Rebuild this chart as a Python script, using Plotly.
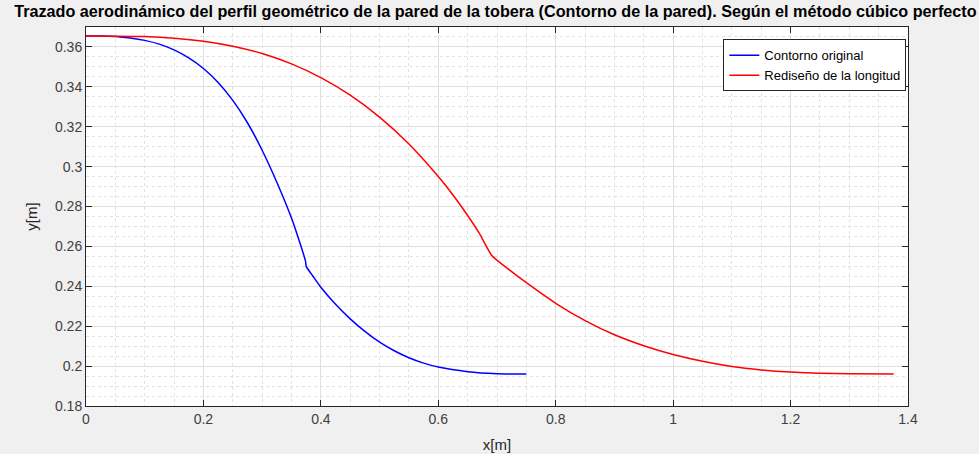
import plotly.graph_objects as go

# Original contour (blue)
x_original = [0.0, 0.025, 0.05, 0.075, 0.10, 0.125, 0.15, 0.175, 0.20, 0.225, 0.25, 0.275,
              0.30, 0.325, 0.35, 0.362, 0.374, 0.375, 0.386, 0.40, 0.425, 0.45, 0.475,
              0.50, 0.525, 0.55, 0.575, 0.60, 0.65, 0.70, 0.75]
y_original = [0.3655, 0.3655, 0.3652, 0.3645, 0.3633, 0.3614, 0.3585, 0.3545, 0.3492,
              0.3422, 0.3332, 0.3220, 0.3082, 0.2922, 0.2742, 0.2638, 0.2525, 0.2500,
              0.2453, 0.2395, 0.2310, 0.2237, 0.2174, 0.2120, 0.2077, 0.2042, 0.2015,
              0.1995, 0.1972, 0.1962, 0.1960]

# Length redesign (red)
x_redesign = [0.0, 0.05, 0.10, 0.15, 0.20, 0.25, 0.30, 0.35, 0.40, 0.45, 0.50, 0.55, 0.60,
              0.625, 0.65, 0.67, 0.691, 0.72, 0.75, 0.80, 0.85, 0.90, 0.95, 1.0, 1.05,
              1.10, 1.15, 1.20, 1.25, 1.30, 1.3756]
y_redesign = [0.3655, 0.3654, 0.3652, 0.3644, 0.3629, 0.3604, 0.3567, 0.3515, 0.3446,
              0.3358, 0.3248, 0.3113, 0.2950, 0.2858, 0.2755, 0.2665, 0.2555, 0.2485,
              0.2418, 0.2315, 0.2228, 0.2157, 0.2102, 0.2058, 0.2024, 0.1998, 0.1981,
              0.1970, 0.1964, 0.1962, 0.1961]

x_tick_vals = [0, 0.2, 0.4, 0.6, 0.8, 1.0, 1.2, 1.4]
x_tick_text = ["0", "0.2", "0.4", "0.6", "0.8", "1", "1.2", "1.4"]
y_tick_vals = [0.18, 0.20, 0.22, 0.24, 0.26, 0.28, 0.30, 0.32, 0.34, 0.36]
y_tick_text = ["0.18", "0.2", "0.22", "0.24", "0.26", "0.28", "0.3", "0.32", "0.34", "0.36"]

series_names = ["Contorno original", "Rediseño de la longitud"]
title_text = ("Trazado aerodinámico del perfil geométrico de la pared de la tobera "
              "(Contorno de la pared). Según el método cúbico perfecto")

FONT = "Liberation Sans, Arial, sans-serif"
AXC = "#262626"
GRID = "#dfdfdf"
MINOR = "#e2e2e2"

fig = go.Figure()
fig.add_trace(go.Scatter(x=x_original, y=y_original, mode="lines", name=series_names[0],
                         line=dict(color="#0000ff", width=1.5, shape="spline", smoothing=0.5)))
fig.add_trace(go.Scatter(x=x_redesign, y=y_redesign, mode="lines", name=series_names[1],
                         line=dict(color="#ff0000", width=1.5, shape="spline", smoothing=0.5)))

axis_common = dict(
    showline=True, linecolor=AXC, linewidth=1, mirror="ticks",
    ticks="inside", ticklen=6, tickcolor=AXC, tickwidth=1,
    showgrid=True, gridcolor=GRID, gridwidth=1,
    zeroline=False, automargin=False,
    tickfont=dict(family=FONT, size=14, color="#404040"),
)

fig.update_xaxes(
    range=[0, 1.4], tickvals=x_tick_vals, ticktext=x_tick_text,
    minor=dict(tick0=0, dtick=0.05, showgrid=True, gridcolor=MINOR, griddash="dot",
               gridwidth=1, ticks=""),
    title=dict(text="x[m]", font=dict(family=FONT, size=15, color="#262626"), standoff=13),
    **axis_common,
)
fig.update_yaxes(
    range=[0.18, 0.37], tickvals=y_tick_vals, ticktext=y_tick_text,
    minor=dict(tick0=0.18, dtick=0.005, showgrid=True, gridcolor=MINOR, griddash="dot",
               gridwidth=1, ticks=""),
    title=dict(text="y[m]", font=dict(family=FONT, size=15, color="#262626"), standoff=13),
    **axis_common,
)

fig.update_layout(
    width=979, height=454,
    margin=dict(l=86, r=71, t=27, b=48),
    paper_bgcolor="#f0f0f0", plot_bgcolor="#ffffff",
    title=dict(text="<b>" + title_text + "</b>", x=0.506, xanchor="center",
               y=0.975, yanchor="middle", yref="container",
               font=dict(family=FONT, size=16.2, color="#000000")),
    legend=dict(x=0.998, y=0.9675, xanchor="right", yanchor="top",
                bgcolor="#ffffff", bordercolor=AXC, borderwidth=1,
                font=dict(family=FONT, size=13, color="#000000"),
                tracegroupgap=0, itemwidth=30),
    showlegend=True,
)

fig.write_html("out.html")
